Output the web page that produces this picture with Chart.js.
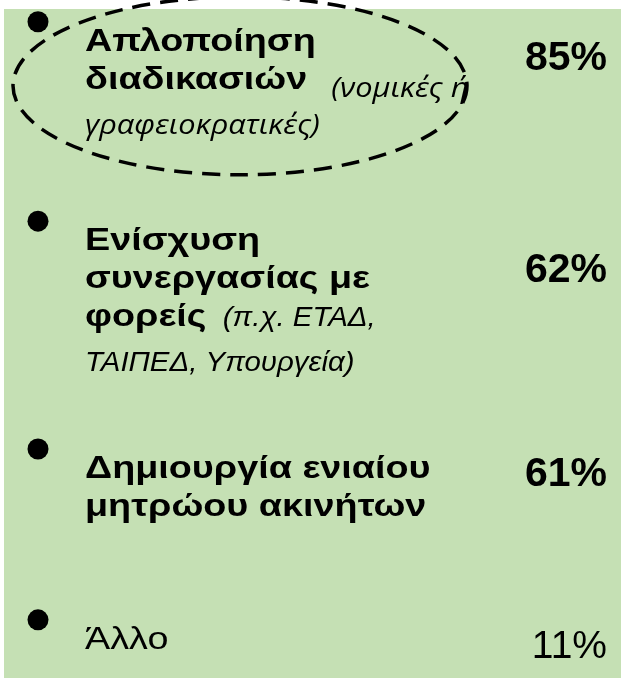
<!DOCTYPE html>
<html>
<head>
<meta charset="utf-8">
<script src="https://cdn.jsdelivr.net/npm/chart.js@4/dist/chart.umd.min.js"></script>
<style>
html,body{margin:0;padding:0;background:#ffffff;}
#wrap{width:626px;height:678px;position:relative;}
</style>
</head>
<body>
<div id="wrap"><canvas id="c" width="626" height="678"></canvas></div>
<script>
// ---- data ----
const categories = [
  "Απλοποίηση διαδικασιών",
  "Ενίσχυση συνεργασίας με φορείς",
  "Δημιουργία ενιαίου μητρώου ακινήτων",
  "Άλλο"
];
const notes = [
  "(νομικές ή γραφειοκρατικές)",
  "(π.χ. ΕΤΑΔ, ΤΑΙΠΕΔ, Υπουργεία)",
  "",
  ""
];
const values = [85, 62, 61, 11];
const valueLabels = values.map(v => v + "%");

// how each label is broken into lines (runs of [text, style])
const labelLines = [
  [[["Απλοποίηση", "b"]], [["διαδικασιών", "b"], ["   (νομικές ή", "ic"]], [["γραφειοκρατικές)", "ic"]]],
  [[["Ενίσχυση", "b"]], [["συνεργασίας με", "b"]], [["φορείς", "b"], ["  (π.χ. ΕΤΑΔ,", "i"]], [["ΤΑΙΠΕΔ, Υπουργεία)", "i"]]],
  [[["Δημιουργία ενιαίου", "b"]], [["μητρώου ακινήτων", "b"]]],
  [[["Άλλο", "r"]]]
];
const valueStyles = ["pb", "pb", "pb", "pr"];

// ---- layout / style ----
const GAP_LINES = 4;
const STYLE = {
  b:  { font: 'bold 32px "Liberation Sans", Arial, sans-serif', sx: 1.18, dy: 0 },
  r:  { font: '32px "Liberation Sans", Arial, sans-serif', sx: 1.18, dy: 0 },
  i:  { font: 'italic 28px "Liberation Sans", Arial, sans-serif', sx: 1.05, dy: 0 },
  ic: { font: 'italic 28px "Open Sans", "Noto Sans", sans-serif', sx: 1.1, dy: 8 },
  pb: { font: 'bold 41px "Liberation Sans", Arial, sans-serif', sx: 1, dy: 0 },
  pr: { font: '39px "Liberation Sans", Arial, sans-serif', sx: 1, dy: 0 }
};
const pctOffset = [48, 61, 37, 38];

// row positions derived from line counts
const rowY = [];
{
  let acc = 0;
  labelLines.forEach((lines) => { rowY.push(acc); acc += lines.length + GAP_LINES; });
}

const textPlugin = {
  id: 'slideText',
  beforeDraw(chart) {
    const ctx = chart.ctx;
    ctx.save();
    ctx.fillStyle = '#ffffff';
    ctx.fillRect(0, 0, chart.width, chart.height);
    ctx.fillStyle = '#C5E0B4';
    ctx.fillRect(4, 9, 617, 669);
    ctx.restore();
  },
  afterDatasetsDraw(chart) {
    const ctx = chart.ctx;
    const xs = chart.scales.x, ys = chart.scales.y;
    const textX = xs.getPixelForValue(0) + 47;
    ctx.save();
    ctx.fillStyle = '#000000';
    ctx.textBaseline = 'alphabetic';
    labelLines.forEach((lines, i) => {
      const top = ys.getPixelForValue(rowY[i]);
      let base = top + 29;
      lines.forEach((runs, li) => {
        if (li > 0) {
          const italicOnly = runs.every(r => r[1] === 'i' || r[1] === 'ic');
          base += italicOnly ? 45 : 38;
        }
        let x = textX;
        ctx.textAlign = 'left';
        runs.forEach(([t, s], ri) => {
          const st = STYLE[s];
          ctx.font = st.font;
          const yb = base + (ri > 0 ? st.dy : 0);
          ctx.save();
          ctx.translate(x, yb);
          ctx.scale(st.sx, 1);
          ctx.fillText(t, 0, 0);
          ctx.restore();
          x += ctx.measureText(t).width * st.sx;
        });
      });
      ctx.font = STYLE[valueStyles[i]].font;
      ctx.textAlign = 'right';
      ctx.fillText(valueLabels[i], 607, top + pctOffset[i]);
    });
    ctx.restore();
  },
  afterDraw(chart) {
    const ctx = chart.ctx;
    const ys = chart.scales.y;
    const cy = ys.getPixelForValue(rowY[0]) + 64;
    ctx.save();
    ctx.strokeStyle = '#000000';
    ctx.lineWidth = 3.5;
    ctx.setLineDash([18, 10]);
    ctx.beginPath();
    ctx.ellipse(240, cy, 227, 89, 0, 0, Math.PI * 2);
    ctx.stroke();
    ctx.restore();
  }
};

new Chart(document.getElementById('c'), {
  type: 'scatter',
  data: {
    labels: categories,
    datasets: [{
      label: 'bullets',
      data: rowY.map(y => ({ x: 0, y: y })),
      pointRadius: 10.5,
      pointHoverRadius: 10.5,
      backgroundColor: '#000000',
      borderWidth: 0
    }]
  },
  options: {
    responsive: false,
    animation: false,
    events: [],
    devicePixelRatio: 1,
    layout: { padding: 0, autoPadding: false },
    plugins: { legend: { display: false }, tooltip: { enabled: false } },
    scales: {
      x: { type: 'linear', min: -38, max: 588, display: false },
      y: { type: 'linear', reverse: true, min: -0.7654, max: 23.041, display: false }
    }
  },
  plugins: [textPlugin]
});
</script>
</body>
</html>
